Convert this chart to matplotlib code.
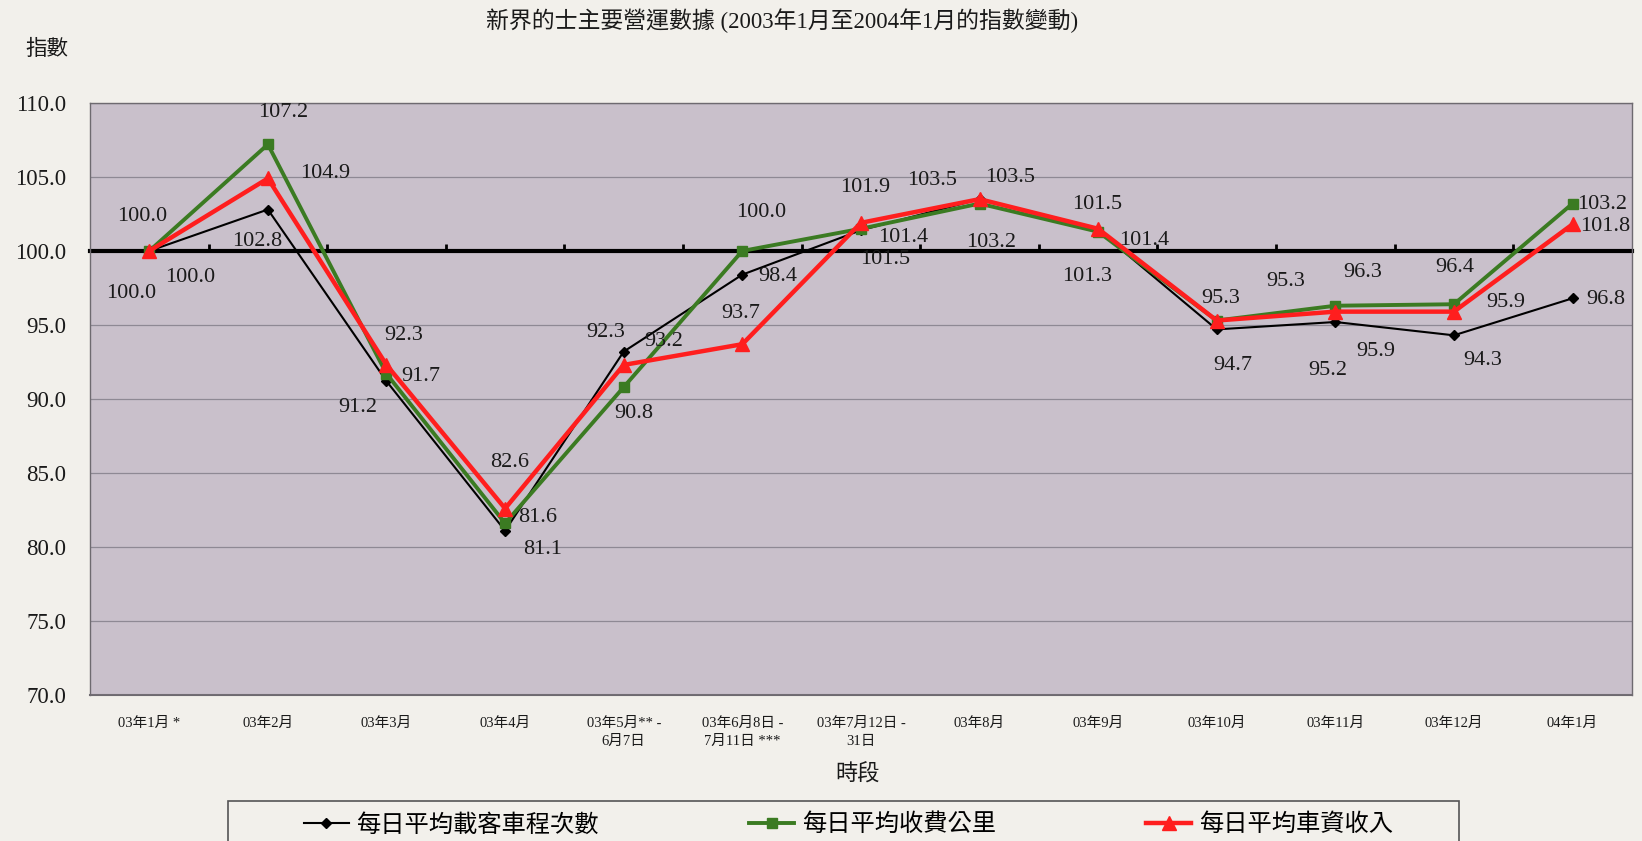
import matplotlib.pyplot as plt
import numpy as np
from matplotlib.patches import Rectangle

plt.rcParams['font.family'] = ['Liberation Serif', 'Noto Sans CJK TC']

# data
periods = ['03年1月 *', '03年2月', '03年3月', '03年4月', '03年5月** -\n6月7日',
           '03年6月8日 -\n7月11日 ***', '03年7月12日 -\n31日', '03年8月', '03年9月',
           '03年10月', '03年11月', '03年12月', '04年1月']
trips = [100.0, 102.8, 91.2, 81.1, 93.2, 98.4, 101.4, 103.5, 101.4, 94.7, 95.2, 94.3, 96.8]
km = [100.0, 107.2, 91.7, 81.6, 90.8, 100.0, 101.5, 103.2, 101.3, 95.3, 96.3, 96.4, 103.2]
fare = [100.0, 104.9, 92.3, 82.6, 92.3, 93.7, 101.9, 103.5, 101.5, 95.3, 95.9, 95.9, 101.8]
names = ['每日平均載客車程次數', '每日平均收費公里', '每日平均車資收入']

# label offsets in pixels (right, down)
trips_off = [(41, 27), (-11, 32), (-29, 26), (38, 19), (40, -10), (35, 2), (42, 7),
             (-47, -19), (46, 10), (16, 36), (-8, 48), (29, 25), (33, 1)]
km_off = [(-7, -34), (15, -32), (34, 3), (33, -6), (10, 26), (19, -38), (24, 31),
          (12, 39), (-11, 45), (69, -39), (27, -33), (1, -37), (30, 1)]
fare_off = [(-18, 43), (57, -5), (17, -29), (5, -46), (-18, -32), (-2, -31), (4, -35),
            (31, -22), (-1, -24), (4, -22), (40, 40), (52, -9), (33, 2)]

bg = '#f2f0eb'
plot_bg = '#c9c0cb'
green = '#3b7b22'
red = '#ff1e1e'

fig = plt.figure(figsize=(16.42, 8.41), dpi=100, facecolor=bg)
ax = fig.add_axes([0.0548, 0.1736, 0.939, 0.704])
ax.set_facecolor(plot_bg)

x = np.arange(len(periods))
ax.plot(x, trips, color='black', lw=1.5, marker='D', ms=5, zorder=3, label=names[0])
ax.plot(x, km, color=green, lw=2.8, marker='s', ms=7, zorder=4, label=names[1])
ax.plot(x, fare, color=red, lw=3.2, marker='^', ms=10, zorder=5, label=names[2])

for vals, offs in [(trips, trips_off), (km, km_off), (fare, fare_off)]:
    for i, v in enumerate(vals):
        dx, dy = offs[i]
        ax.annotate(f'{v:.1f}', (i, v), xytext=(dx, -dy), textcoords='offset pixels',
                    ha='center', va='center', fontsize=16, color='#1a1a1a', zorder=6)

ax.set_xlim(-0.5, len(periods) - 0.5)
ax.set_ylim(70, 110)
ax.set_yticks(np.arange(70, 111, 5))
ax.set_yticklabels([f'{t:.1f}' for t in np.arange(70, 111, 5)], fontsize=16.5)
ax.tick_params(axis='y', length=0, pad=17, colors='#1a1a1a')
ax.grid(axis='y', color='#8e8994', lw=0.9)
ax.set_axisbelow(True)

# category axis crosses at 100
ax.spines['bottom'].set_position(('data', 100))
ax.spines['bottom'].set_linewidth(3)
ax.spines['bottom'].set_zorder(2)
ax.set_xticks(x)
ax.set_xticklabels([])
ax.tick_params(axis='x', which='major', length=0)
ax.set_xticks(x[:-1] + 0.5, minor=True)
ax.tick_params(axis='x', which='minor', direction='in', length=5, width=2)
for s in ['left', 'right', 'top']:
    ax.spines[s].set_color('#6e6a70')
    ax.spines[s].set_linewidth(1)

secax = ax.secondary_xaxis(0)
secax.set_xticks(x)
secax.set_xticklabels(periods, fontsize=10.5, linespacing=1.5, va='top')
secax.tick_params(length=0, pad=16, colors='#1a1a1a')
secax.spines['bottom'].set_color('#6e6a70')
secax.spines['bottom'].set_linewidth(1.5)

fig.text(0.476, 0.975, '新界的士主要營運數據 (2003年1月至2004年1月的指數變動)',
         ha='center', va='center', fontsize=16.5, color='#1a1a1a')
fig.text(0.0286, 0.9405, '指數', ha='center', va='center', fontsize=15.5, color='#1a1a1a')
fig.text(0.522, 0.0785, '時段', ha='center', va='center', fontsize=16, color='#1a1a1a')

fig.patches.append(Rectangle((228 / 1642, -0.03), 1231 / 1642, 0.0776,
                             transform=fig.transFigure, facecolor='none',
                             edgecolor='#555555', lw=1.2))
fig.legend(loc='center left', bbox_to_anchor=(304 / 1642, 1 - 825 / 841), ncol=3,
           frameon=False, fontsize=17.5, borderpad=0, borderaxespad=0,
           handlelength=1.85, handletextpad=0.3, columnspacing=6.2, numpoints=1)

fig.savefig('out.png', dpi=100, facecolor=bg)
